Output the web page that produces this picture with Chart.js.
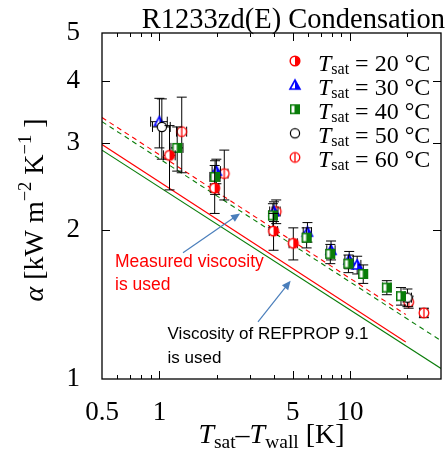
<!DOCTYPE html>
<html>
<head>
<meta charset="utf-8">
<script src="https://cdn.jsdelivr.net/npm/chart.js@4"></script>
<style>
  body { margin: 0; background: #fff; }
  canvas { display: block; }
</style>
</head>
<body>
<canvas id="myChart" width="447" height="457"></canvas>
<script>
'use strict'

// *********DATA***********

// T_sat values of the five series
const tSat = [20, 30, 40, 50, 60];

// Tsat = 20 C
const dT20 = [1.13, 1.95, 3.97, 5.04];
const alpha20 = [2.83, 2.43, 1.99, 1.88];
const errY20 = [0.42, 0.27, 0.17, 0.14];
const errX20 = [0.08, 0.1, 0.2, 0.25];

// Tsat = 30 C
const dT30 = [1.0, 1.99, 3.99, 5.98, 7.95, 9.9, 10.9];
const alpha30 = [3.31, 2.63, 2.18, 1.98, 1.82, 1.74, 1.70];
const errY30 = [0.38, 0.15, 0.1, 0.09, 0.08, 0.07, 0.07];
const errX30 = [0.1, 0.1, 0.2, 0.3, 0.4, 0.5, 0.5];

// Tsat = 40 C
const dT40 = [1.24, 1.96, 3.94, 5.92, 7.88, 9.81, 11.73, 15.6, 18.5];
const alpha40 = [2.93, 2.56, 2.14, 1.93, 1.79, 1.71, 1.63, 1.53, 1.47];
const errY40 = [0.3, 0.2, 0.12, 0.09, 0.08, 0.07, 0.07, 0.05, 0.06];
const errX40 = [0.09, 0.12, 0.2, 0.3, 0.4, 0.5, 0.6, 0.8, 0.9];

// Tsat = 50 C
const dT50 = [1.03, 20.0];
const alpha50 = [3.23, 1.46];
const errY50 = [0.45, 0.06];
const errX50 = [0.11, 1.0];

// Tsat = 60 C
const dT60 = [1.31, 2.19, 4.1, 20.3, 24.4];
const alpha60 = [3.16, 2.60, 2.18, 1.43, 1.36];
const errY60 = [0.55, 0.3, 0.12, 0.04, 0.03];
const errX60 = [0.08, 0.1, 0.2, 1.0, 1.2];

// prediction lines (end points)
const lineX = [0.5, 19.6];
const lineXlong = [0.5, 30];
const measuredSolid = [2.976, 1.188];
const measuredDashed = [3.375, 1.35];
const refpropSolid = [2.90, 1.05];
const refpropDashed = [3.31, 1.195];

// axes
const xTicks = [0.5, 1, 5, 10];
const yTicks = [1, 2, 3, 4, 5];
const xMajor = [1, 5, 10];
const xMinor = [0.6, 0.7, 0.8, 0.9, 2, 3, 4, 6, 7, 8, 9, 20];
const yMajor = [2, 3, 4];

// annotations (data coordinates)
const arrowMeasured = [[1.33, 1.80], [2.65, 2.16]];
const arrowRefprop = [[3.29, 1.305], [4.88, 1.58]];
const noteMeasured = ['Measured viscosity', 'is used'];
const noteMeasuredPos = [[0.585, 1.68], [0.585, 1.513]];
const noteRefprop = ['Viscosity of REFPROP 9.1', 'is used'];
const noteRefpropPos = [[1.104, 1.203], [1.104, 1.076]];

// *********MARKERS**********

const RED = '#ff0000';
const BLUE = '#0000ff';
const GREEN = '#0a7d0a';
const SERIF = '"Liberation Serif", "Times New Roman", serif';

function makeMarker(draw){
  let c = document.createElement('canvas');
  c.width = 14;
  c.height = 14;
  let g = c.getContext('2d');
  g.translate(7, 7);
  draw(g);
  return c;
}

let halfCircle = makeMarker(function(g){
  g.beginPath(); g.arc(0, 0, 4.8, 0, Math.PI * 2); g.fillStyle = '#fff'; g.fill();
  g.beginPath(); g.arc(0, 0, 4.8, -Math.PI / 2, Math.PI / 2); g.closePath(); g.fillStyle = RED; g.fill();
  g.beginPath(); g.arc(0, 0, 4.8, 0, Math.PI * 2); g.strokeStyle = RED; g.lineWidth = 1.5; g.stroke();
});

let halfTriangle = makeMarker(function(g){
  g.beginPath(); g.moveTo(0, -5); g.lineTo(5, 4); g.lineTo(-5, 4); g.closePath();
  g.fillStyle = '#fff'; g.fill();
  g.beginPath(); g.moveTo(0, -5); g.lineTo(5, 4); g.lineTo(0, 4); g.closePath();
  g.fillStyle = BLUE; g.fill();
  g.beginPath(); g.moveTo(0, -5); g.lineTo(5, 4); g.lineTo(-5, 4); g.closePath();
  g.strokeStyle = BLUE; g.lineWidth = 1.6; g.stroke();
});

let halfSquare = makeMarker(function(g){
  g.fillStyle = GREEN; g.fillRect(-5, -5, 10, 10);
  g.fillStyle = '#fff'; g.fillRect(-3.5, -3.5, 3, 7);
});

let openCircle = makeMarker(function(g){
  g.beginPath(); g.arc(0, 0, 4.6, 0, Math.PI * 2); g.fillStyle = '#fff'; g.fill();
  g.strokeStyle = '#000'; g.lineWidth = 1.2; g.stroke();
});

let phiCircle = makeMarker(function(g){
  g.beginPath(); g.arc(0, 0, 4.8, 0, Math.PI * 2); g.fillStyle = '#fff'; g.fill();
  g.strokeStyle = RED; g.lineWidth = 1.3; g.stroke();
  g.beginPath(); g.moveTo(0, -4.8); g.lineTo(0, 4.8); g.stroke();
});

const markers = [halfCircle, halfTriangle, halfSquare, openCircle, phiCircle];

// *********HELPERS**********

function toPoints(xs, ys){
  return xs.map(function(x, i){ return { x: x, y: ys[i] }; });
}

function pointSet(xs, ys, ex, ey, marker){
  return {
    type: 'scatter',
    data: toPoints(xs, ys),
    errX: ex,
    errY: ey,
    pointStyle: marker,
    pointRadius: 5,
    showLine: false
  };
}

function lineSet(xs, ys, color, dashed){
  return {
    type: 'line',
    data: toPoints(xs, ys),
    borderColor: color,
    borderWidth: 1.1,
    borderDash: dashed ? [5, 4] : [],
    pointRadius: 0,
    showLine: true,
    fill: false
  };
}

function fontOf(p){
  return (p.it ? 'italic ' : '') + p.size + 'px ' + SERIF;
}

function richWidth(ctx, parts){
  let w = 0;
  for(let p of parts){
    ctx.font = fontOf(p);
    w += ctx.measureText(p.t).width;
  }
  return w;
}

function drawRich(ctx, parts, x, y){
  let cx = x;
  for(let p of parts){
    ctx.font = fontOf(p);
    ctx.fillText(p.t, cx, y + (p.dy || 0));
    cx += ctx.measureText(p.t).width;
  }
}

function drawArrow(ctx, x0, y0, x1, y1){
  let ang = Math.atan2(y1 - y0, x1 - x0);
  ctx.strokeStyle = '#4a7ebb';
  ctx.fillStyle = '#4a7ebb';
  ctx.lineWidth = 1.2;
  ctx.beginPath();
  ctx.moveTo(x0, y0);
  ctx.lineTo(x1 - 6 * Math.cos(ang), y1 - 6 * Math.sin(ang));
  ctx.stroke();
  ctx.beginPath();
  ctx.moveTo(x1, y1);
  ctx.lineTo(x1 - 9 * Math.cos(ang) + 4 * Math.sin(ang), y1 - 9 * Math.sin(ang) - 4 * Math.cos(ang));
  ctx.lineTo(x1 - 9 * Math.cos(ang) - 4 * Math.sin(ang), y1 - 9 * Math.sin(ang) + 4 * Math.cos(ang));
  ctx.closePath();
  ctx.fill();
}

// *********PLUGIN**********

const overlay = {
  id: 'overlay',
  beforeDatasetDraw(chart, args){
    let ds = chart.data.datasets[args.index];
    if(!ds.errY) return;
    let xs = chart.scales.x, ys = chart.scales.y, ctx = chart.ctx;
    ctx.save();
    ctx.strokeStyle = '#000';
    ctx.lineWidth = 1;
    ds.data.forEach(function(p, i){
      let px = xs.getPixelForValue(p.x);
      let py = ys.getPixelForValue(p.y);
      let top = ys.getPixelForValue(p.y + ds.errY[i]);
      let bot = ys.getPixelForValue(p.y - ds.errY[i]);
      let left = xs.getPixelForValue(p.x - ds.errX[i]);
      let right = xs.getPixelForValue(p.x + ds.errX[i]);
      ctx.beginPath();
      ctx.moveTo(px, top); ctx.lineTo(px, bot);
      ctx.moveTo(px - 5, top); ctx.lineTo(px + 5, top);
      ctx.moveTo(px - 5, bot); ctx.lineTo(px + 5, bot);
      ctx.moveTo(left, py); ctx.lineTo(right, py);
      ctx.moveTo(left, py - 5); ctx.lineTo(left, py + 5);
      ctx.moveTo(right, py - 5); ctx.lineTo(right, py + 5);
      ctx.stroke();
    });
    ctx.restore();
  },
  afterDraw(chart){
    let ctx = chart.ctx, a = chart.chartArea;
    let xs = chart.scales.x, ys = chart.scales.y;
    ctx.save();

    // frame and inward ticks
    ctx.strokeStyle = '#000';
    ctx.lineWidth = 1.3;
    ctx.strokeRect(a.left, a.top, a.right - a.left, a.bottom - a.top);
    ctx.lineWidth = 1;
    ctx.beginPath();
    xMajor.concat(xMinor).forEach(function(v){
      let len = xMajor.includes(v) ? 8 : 4;
      let px = Math.round(xs.getPixelForValue(v)) + 0.5;
      ctx.moveTo(px, a.bottom); ctx.lineTo(px, a.bottom - len);
      ctx.moveTo(px, a.top); ctx.lineTo(px, a.top + len);
    });
    yMajor.forEach(function(v){
      let py = Math.round(ys.getPixelForValue(v)) + 0.5;
      ctx.moveTo(a.left, py); ctx.lineTo(a.left + 8, py);
      ctx.moveTo(a.right, py); ctx.lineTo(a.right - 8, py);
    });
    ctx.stroke();

    // title
    ctx.fillStyle = '#000';
    ctx.textAlign = 'right';
    ctx.textBaseline = 'alphabetic';
    ctx.font = '28.5px ' + SERIF;
    ctx.fillText('R1233zd(E) Condensation', 445, 28);
    ctx.textAlign = 'left';

    // x axis title
    let xParts = [
      { t: 'T', size: 28, it: true },
      { t: 'sat', size: 19.5, dy: 4.5 },
      { t: '\u2013', size: 28 },
      { t: 'T', size: 28, it: true },
      { t: 'wall', size: 19.5, dy: 4.5 },
      { t: ' [K]', size: 28 }
    ];
    let xw = richWidth(ctx, xParts);
    drawRich(ctx, xParts, (a.left + a.right) / 2 - xw / 2, 443);

    // y axis title
    let yParts = [
      { t: '\u03b1', size: 28, it: true },
      { t: ' [kW m', size: 28 },
      { t: '\u22122', size: 18.5, dy: -12 },
      { t: ' K', size: 28 },
      { t: '\u22121', size: 18.5, dy: -12 },
      { t: ' ]', size: 28 }
    ];
    ctx.save();
    ctx.translate(43, 210);
    ctx.rotate(-Math.PI / 2);
    let yw = richWidth(ctx, yParts);
    drawRich(ctx, yParts, -yw / 2, 0);
    ctx.restore();

    // legend
    tSat.forEach(function(t, i){
      let cy = 61 + i * 24.1;
      ctx.drawImage(markers[i], 295 - 7, cy - 7);
      ctx.fillStyle = '#000';
      drawRich(ctx, [
        { t: 'T', size: 24, it: true },
        { t: 'sat', size: 16, dy: 3 },
        { t: ' = ' + t + ' \u00b0C', size: 24 }
      ], 318, cy + 9.5);
    });

    // annotations
    ctx.font = '17.5px "Liberation Sans", Arial, sans-serif';
    ctx.fillStyle = RED;
    noteMeasured.forEach(function(s, i){
      ctx.fillText(s, xs.getPixelForValue(noteMeasuredPos[i][0]), ys.getPixelForValue(noteMeasuredPos[i][1]));
    });
    ctx.font = '17px "Liberation Sans", Arial, sans-serif';
    ctx.fillStyle = '#000';
    noteRefprop.forEach(function(s, i){
      ctx.fillText(s, xs.getPixelForValue(noteRefpropPos[i][0]), ys.getPixelForValue(noteRefpropPos[i][1]));
    });
    [arrowMeasured, arrowRefprop].forEach(function(arr){
      drawArrow(ctx,
        xs.getPixelForValue(arr[0][0]), ys.getPixelForValue(arr[0][1]),
        xs.getPixelForValue(arr[1][0]), ys.getPixelForValue(arr[1][1]));
    });

    ctx.restore();
  }
};

// *********CHART**********

let ctx = document.getElementById('myChart');

let myChartObj = {
  type: 'scatter',
  data: {
    datasets: [
      pointSet(dT20, alpha20, errX20, errY20, halfCircle),
      pointSet(dT40, alpha40, errX40, errY40, halfSquare),
      pointSet(dT50, alpha50, errX50, errY50, openCircle),
      pointSet(dT30, alpha30, errX30, errY30, halfTriangle),
      pointSet(dT60, alpha60, errX60, errY60, phiCircle),
      lineSet(lineX, measuredDashed, RED, true),
      lineSet(lineXlong, refpropDashed, GREEN, true),
      lineSet(lineX, measuredSolid, RED, false),
      lineSet(lineXlong, refpropSolid, GREEN, false)
    ]
  },
  options: {
    responsive: false,
    animation: false,
    devicePixelRatio: 1,
    layout: { padding: { top: 33, right: 3, left: 0, bottom: 0 } },
    plugins: {
      legend: { display: false },
      tooltip: { enabled: false },
      title: { display: false }
    },
    scales: {
      x: {
        type: 'logarithmic',
        min: 0.5,
        max: 30,
        grid: { display: false },
        border: { display: false },
        afterBuildTicks: function(s){ s.ticks = xTicks.map(function(v){ return { value: v }; }); },
        afterFit: function(s){ s.height = 78; },
        ticks: {
          autoSkip: false,
          maxRotation: 0,
          padding: 10,
          color: '#000',
          font: { family: SERIF, size: 27 },
          callback: function(v){ return String(v); }
        }
      },
      y: {
        type: 'logarithmic',
        min: 1,
        max: 5,
        grid: { display: false },
        border: { display: false },
        afterBuildTicks: function(s){ s.ticks = yTicks.map(function(v){ return { value: v }; }); },
        afterFit: function(s){ s.width = 102; },
        ticks: {
          autoSkip: false,
          padding: 14,
          color: '#000',
          font: { family: SERIF, size: 27 },
          callback: function(v){ return String(v); }
        }
      }
    }
  },
  plugins: [overlay]
};

new Chart(ctx, myChartObj);
</script>
</body>
</html>
